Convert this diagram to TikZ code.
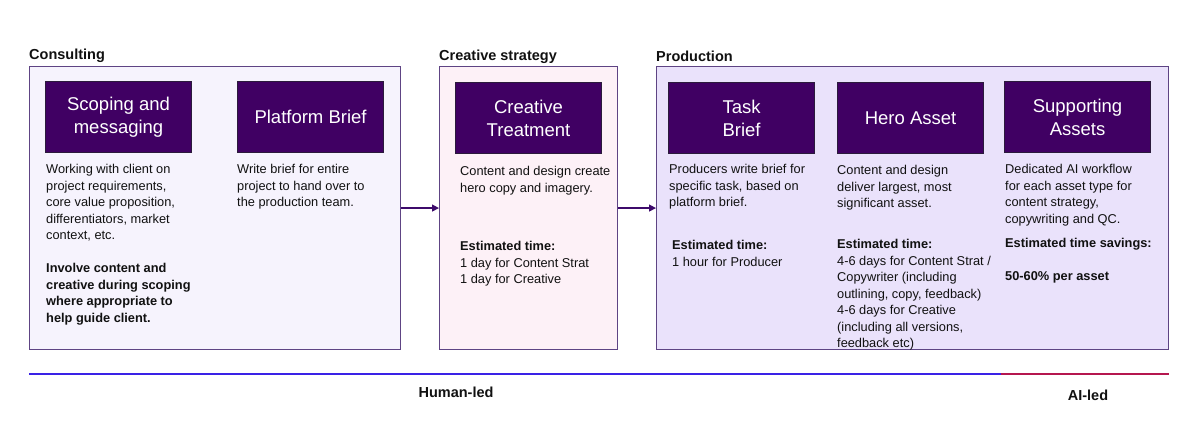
\documentclass[tikz,border=0pt]{standalone}
\usepackage{fontspec}
\setmainfont{Liberation Sans}
\usetikzlibrary{arrows.meta}
\definecolor{stagefill}{HTML}{400063}
\definecolor{stageline}{HTML}{2B1A3C}
\definecolor{panelline}{HTML}{5E4484}
\definecolor{consultfill}{HTML}{F6F3FD}
\definecolor{creativefill}{HTML}{FDF1F7}
\definecolor{prodfill}{HTML}{EAE2FB}
\definecolor{flowcol}{HTML}{3D0A6B}
\definecolor{humancol}{HTML}{3A22E6}
\definecolor{aicol}{HTML}{B5174F}
\definecolor{inkcol}{HTML}{111111}

\begin{document}
\begin{tikzpicture}[x=1pt,y=-1pt,
        every node/.style={inner sep=0pt, text=inkcol},
        panel/.style={draw=panelline, line width=1.1pt, anchor=north west, minimum height=283pt},
        paneltitle/.style={anchor=base west, font=\fontsize{14.5}{17}\selectfont\bfseries},
        stagebox/.style={draw=stageline, fill=stagefill, line width=1.1pt, anchor=north west,
            minimum width=146pt, minimum height=71pt, text=white, align=center,
            font=\fontsize{18.5}{23}\selectfont},
        desc/.style={anchor=base west, align=left, font=\fontsize{12.8}{16.5}\selectfont},
        flow/.style={draw=flowcol, line width=1.3pt, -{Triangle[length=7pt,width=7pt]}},
        leadlabel/.style={font=\fontsize{14.5}{17}\selectfont\bfseries}]
        \useasboundingbox (0,0) rectangle (1195,438);
        % panels
        \node[panel, fill=consultfill, minimum width=371pt] (consult) at (29,66) {};
        \node[panel, fill=creativefill, minimum width=178pt] (creative) at (439,66) {};
        \node[panel, fill=prodfill, minimum width=512pt] (prod) at (656,66) {};
        \node[paneltitle] (consulttitle) at (29,59.5) {Consulting};
        \node[paneltitle] (creativetitle) at (439,60.5) {Creative strategy};
        \node[paneltitle] (prodtitle) at (656,62) {Production};
        % stages
        \node[stagebox] (scope) at (45,81) {Scoping and\\messaging};
        \node[stagebox] (platform) at (237,81) {Platform Brief};
        \node[stagebox] (treat) at (455,82) {Creative\\Treatment};
        \node[stagebox] (task) at (668,82) {Task\\Brief};
        \node[stagebox] (hero) at (837,82) {Hero Asset};
        \node[stagebox] (support) at (1004,81) {Supporting\\Assets};
        % descriptions (placed at the baseline of their last line)
        \node[desc] (scopetext) at (46,322.5) {Working with client on\\project requirements,\\core value proposition,\\differentiators, market\\context, etc.\\[16.5pt]
            \textbf{Involve content and}\\\textbf{creative during scoping}\\\textbf{where appropriate to}\\\textbf{help guide client.}};
        \node[desc] (platformtext) at (237,207) {Write brief for entire\\project to hand over to\\the production team.};
        \node[desc] (treattext) at (460,192.5) {Content and design create\\hero copy and imagery.};
        \node[desc] (treattime) at (460,284) {\textbf{Estimated time:}\\1 day for Content Strat\\1 day for Creative};
        \node[desc] (tasktext) at (669,207) {Producers write brief for\\specific task, based on\\platform brief.};
        \node[desc] (tasktime) at (672,266.5) {\textbf{Estimated time:}\\1 hour for Producer};
        \node[desc] (herotext) at (837,208) {Content and design\\deliver largest, most\\significant asset.};
        \node[desc] (herotime) at (837,348) {\textbf{Estimated time:}\\4-6 days for Content Strat /\\Copywriter (including\\outlining, copy, feedback)\\4-6 days for Creative\\(including all versions,\\feedback etc)};
        \node[desc] (supporttext) at (1005,223.5) {Dedicated AI workflow\\for each asset type for\\content strategy,\\copywriting and QC.};
        \node[desc] (supporttime) at (1005,281) {\textbf{Estimated time savings:}\\[16.5pt]\textbf{50-60\% per asset}};
        % flow
        \draw[flow] (consult) -- (creative);
        \draw[flow] (creative) -- (prod);
        % who leads
        \coordinate (humanstart) at (29,374.5);
        \coordinate (split) at (1000.5,374.5);
        \coordinate (aiend) at (1168.5,374.5);
        \draw[humancol, line width=2pt] (humanstart) -- (split);
        \draw[aicol, line width=2pt] (split) -- (aiend);
        \node[leadlabel] (human) at (456,392) {Human-led};
        \node[leadlabel] (ai) at (1088,395) {AI-led};
\end{tikzpicture}
\end{document}
